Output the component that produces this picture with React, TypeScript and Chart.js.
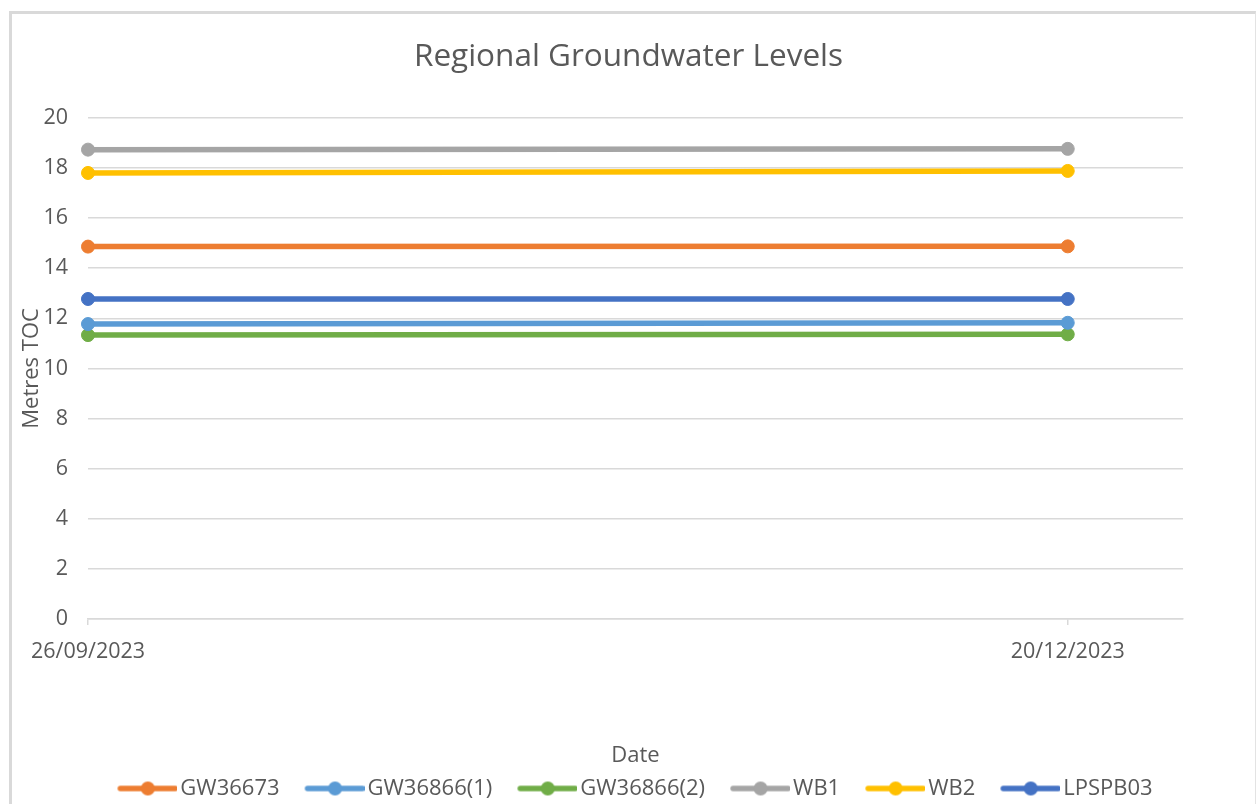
import React, { useEffect, useRef } from "react";
import { Chart, registerables } from "chart.js";

Chart.register(...registerables);

// ---------- data ----------
const chartTitle = "Regional Groundwater Levels";
const xAxisTitle = "Date";
const yAxisTitle = "Metres TOC";

const dates = ["2023-09-26", "2023-12-20"];
const xAxisStart = "2023-09-26";
const xAxisEnd = "2023-12-30";

const seriesNames = ["GW36673", "GW36866(1)", "GW36866(2)", "WB1", "WB2", "LPSPB03"];
const gw36673 = [14.86, 14.87];
const gw36866_1 = [11.77, 11.82];
const gw36866_2 = [11.33, 11.36];
const wb1 = [18.73, 18.76];
const wb2 = [17.8, 17.88];
const lpspb03 = [12.77, 12.77];
const seriesValues = [gw36673, gw36866_1, gw36866_2, wb1, wb2, lpspb03];
const seriesColors = ["#ED7D31", "#5B9BD5", "#70AD47", "#A5A5A5", "#FFC000", "#4472C4"];

const yMin = 0;
const yMax = 20;
const yStep = 2;

// ---------- helpers ----------
const DAY = 86400000;
const toDay = (s: string) => Date.parse(s + "T00:00:00Z") / DAY;
const fmtDay = (d: number) => {
  const dt = new Date(Math.round(d) * DAY);
  const dd = String(dt.getUTCDate()).padStart(2, "0");
  const mm = String(dt.getUTCMonth() + 1).padStart(2, "0");
  return `${dd}/${mm}/${dt.getUTCFullYear()}`;
};

const FONT = "'Open Sans', 'Noto Sans', sans-serif";
const TEXT = "#595959";
const GRID = "#D9D9D9";

function makeLegendIcon(color: string) {
  const c = document.createElement("canvas");
  const W = 81;
  const H = 16;
  c.width = W;
  c.height = H;
  const ctx = c.getContext("2d")!;
  ctx.strokeStyle = color;
  ctx.lineWidth = 5.5;
  ctx.lineCap = "round";
  ctx.beginPath();
  ctx.moveTo(24, H / 2);
  ctx.lineTo(W - 2, H / 2);
  ctx.stroke();
  ctx.fillStyle = color;
  ctx.beginPath();
  ctx.arc((22 + W) / 2, H / 2, 7, 0, Math.PI * 2);
  ctx.fill();
  return c;
}

export default function App() {
  const ref = useRef<HTMLCanvasElement | null>(null);

  useEffect(() => {
    if (!ref.current) return;
    const icons = seriesColors.map(makeLegendIcon);
    const chart = new Chart(ref.current, {
      type: "line",
      data: {
        datasets: seriesNames.map((name, i) => ({
          label: name,
          data: dates.map((d, j) => ({ x: toDay(d), y: seriesValues[i][j] })),
          borderColor: seriesColors[i],
          backgroundColor: seriesColors[i],
          pointBackgroundColor: seriesColors[i],
          pointBorderColor: seriesColors[i],
          borderWidth: 5.5,
          pointRadius: 6.5,
          pointBorderWidth: 1,
          tension: 0,
          fill: false,
          clip: false,
        })),
      },
      options: {
        animation: false,
        responsive: false,
        devicePixelRatio: 1,
        font: { family: FONT },
        layout: { padding: { top: 14, left: 12, right: 12, bottom: 20.5 } },
        plugins: {
          title: {
            display: true,
            text: chartTitle,
            color: TEXT,
            font: { family: FONT, size: 31.5, weight: "normal" },
            padding: { top: 24, bottom: 42 },
          },
          legend: {
            position: "bottom",
            labels: {
              usePointStyle: true,
              pointStyleWidth: 65,
              boxHeight: 16,
              padding: 12,
              color: TEXT,
              font: { family: FONT, size: 22 },
              generateLabels: (ch: any) => {
                const base = Chart.defaults.plugins.legend.labels.generateLabels(ch);
                return base.map((it: any, i: number) => ({ ...it, pointStyle: icons[i] }));
              },
            },
          },
          tooltip: { enabled: false },
        },
        scales: {
          x: {
            type: "linear",
            min: toDay(xAxisStart),
            max: toDay(xAxisEnd),
            afterBuildTicks: (s: any) => {
              s.ticks = dates.map((d) => ({ value: toDay(d) }));
            },
            afterFit: (s: any) => {
              s.height = 146.5;
            },
            ticks: {
              autoSkip: false,
              maxRotation: 0,
              padding: 14,
              color: TEXT,
              font: { family: FONT, size: 21.5 },
              callback: (v: any) => fmtDay(Number(v)),
            },
            grid: {
              display: true,
              drawOnChartArea: false,
              drawTicks: true,
              tickLength: 6,
              color: GRID,
              lineWidth: 1.5,
            },
            border: { display: true, color: GRID, width: 1.5 },
            title: {
              display: true,
              text: xAxisTitle,
              color: TEXT,
              font: { family: FONT, size: 22 },
              padding: { top: 0, bottom: -3 },
            },
          },
          y: {
            type: "linear",
            position: "left",
            min: yMin,
            max: yMax,
            afterFit: (s: any) => {
              s.width = 76;
            },
            ticks: {
              stepSize: yStep,
              padding: 20,
              color: TEXT,
              font: { family: FONT, size: 21.5 },
            },
            grid: { color: GRID, lineWidth: 1.5, drawTicks: false },
            border: { display: false },
            title: {
              display: true,
              text: yAxisTitle,
              color: TEXT,
              font: { family: FONT, size: 22 },
              padding: { top: 7, bottom: 0 },
            },
          },
          y2: {
            type: "linear",
            position: "right",
            display: true,
            afterFit: (s: any) => {
              s.width = 62;
            },
            ticks: { display: false },
            grid: { display: false },
            border: { display: false },
          },
        },
      } as any,
    });
    return () => chart.destroy();
  }, []);

  return (
    <div
      style={{
        position: "fixed",
        left: 0,
        top: 0,
        width: 1257,
        height: 804,
        overflow: "hidden",
        background: "#ffffff",
      }}
    >
      <div
        style={{
          position: "absolute",
          left: 9,
          top: 11,
          width: 1243,
          height: 820,
          borderLeft: "3px solid #D9D9D9",
          borderTop: "3px solid #D9D9D9",
          borderRight: "1px solid #E3E3E3",
          pointerEvents: "none",
        }}
      />
      <canvas
        ref={ref}
        width={1257}
        height={830}
        style={{ position: "absolute", left: 0, top: 0, width: 1257, height: 830 }}
      />
    </div>
  );
}
